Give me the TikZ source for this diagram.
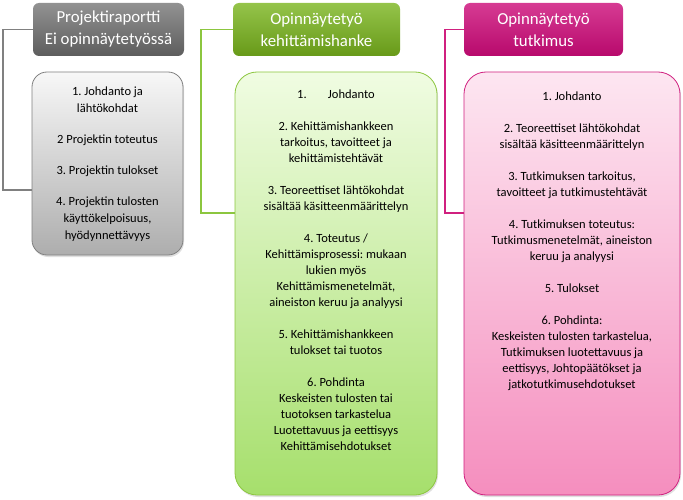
\documentclass[tikz,border=0pt]{standalone}
\usepackage{fontspec}
\setmainfont{Carlito}
\usetikzlibrary{shadows}
\frenchspacing
\definecolor{grayhead}{HTML}{6E6E6E}
\definecolor{grayline}{HTML}{808080}
\definecolor{greenhead}{HTML}{7AB51D}
\definecolor{greenline}{HTML}{8CC63F}
\definecolor{greentop}{HTML}{F0FCE2}
\definecolor{greenbot}{HTML}{A6DF6C}
\definecolor{pinkhead}{HTML}{CC0A78}
\definecolor{pinkline}{HTML}{D0207F}
\definecolor{pinktop}{HTML}{FDE6F1}
\definecolor{pinkbot}{HTML}{F58EBE}
\tikzset{
  head/.style={rectangle,rounded corners=6pt,text=white,align=center,
    font={\fontsize{16.8}{22}\selectfont},minimum height=53pt,inner sep=0pt},
  body/.style={rectangle,rounded corners=22pt,line width=0.8pt,minimum height=423pt,
    drop shadow={opacity=0.25,shadow xshift=1pt,shadow yshift=-2pt}},
  bodytext/.style={anchor=north,align=center,text=black,
    font={\fontsize{12.5}{16}\selectfont}},
  bracket/.style={line width=1.8pt}
}
\begin{document}
\begin{tikzpicture}[x=1pt,y=-1pt]
\useasboundingbox (0,0) rectangle (683,500);
% projektiraportti
\node (h1) at (108.5,29.5) [head,minimum width=151pt,top color=grayhead!75!white,bottom color=grayhead!85!black] {Projektiraportti\\Ei opinnäytetyössä};
\node (b1) at (107.5,163.5) [body,rounded corners=15pt,minimum width=151pt,minimum height=183pt,draw=grayline,top color=black!3,bottom color=black!32] {};
\node (t1) at ([yshift=-12pt]b1.north) [bodytext,font={\fontsize{12.5}{17}\selectfont}] {1. Johdanto ja\\lähtökohdat\\[14pt]2 Projektin toteutus\\[14pt]3. Projektin tulokset\\[14pt]4. Projektin tulosten\\käyttökelpoisuus,\\hyödynnettävyys};
\coordinate (k1) at (3,190);
\draw[bracket,grayline] (h1.west) -| (k1) -- (k1 -| b1.west);
% kehittamishanke
\node (h2) at (316.5,29.5) [head,minimum width=167pt,top color=greenhead!80!white,bottom color=greenhead!85!black] {Opinnäytetyö\\kehittämishanke};
\node (b2) at (336,283.5) [body,minimum width=202pt,draw=greenline,top color=greentop,bottom color=greenbot] {};
\node (t2) at ([yshift=-15pt]b2.north) [bodytext] {1.\hspace{1.7em}Johdanto\\[16pt]2. Kehittämishankkeen\\tarkoitus, tavoitteet ja\\kehittämistehtävät\\[16pt]3. Teoreettiset lähtökohdat\\sisältää käsitteenmäärittelyn\\[16pt]4. Toteutus /\\Kehittämisprosessi: mukaan\\lukien myös\\Kehittämismenetelmät,\\aineiston keruu ja analyysi\\[16pt]5. Kehittämishankkeen\\tulokset tai tuotos\\[16pt]6. Pohdinta\\Keskeisten tulosten tai\\tuotoksen tarkastelua\\Luotettavuus ja eettisyys\\Kehittämisehdotukset};
\coordinate (k2) at (201,213);
\draw[bracket,greenline] (h2.west) -| (k2) -- (k2 -| b2.west);
% tutkimus
\node (h3) at (543.5,29.5) [head,minimum width=159pt,top color=pinkhead!80!white,bottom color=pinkhead!90!black] {Opinnäytetyö\\tutkimus};
\node (b3) at (572,283.5) [body,minimum width=216pt,draw=pinkline,top color=pinktop,bottom color=pinkbot] {};
\node (t3) at ([yshift=-17pt]b3.north) [bodytext] {1. Johdanto\\[16pt]2. Teoreettiset lähtökohdat\\sisältää käsitteenmäärittelyn\\[16pt]3. Tutkimuksen tarkoitus,\\tavoitteet ja tutkimustehtävät\\[16pt]4. Tutkimuksen toteutus:\\Tutkimusmenetelmät, aineiston\\keruu ja analyysi\\[16pt]5. Tulokset\\[16pt]6. Pohdinta:\\Keskeisten tulosten tarkastelua,\\Tutkimuksen luotettavuus ja\\eettisyys, Johtopäätökset ja\\jatkotutkimusehdotukset};
\coordinate (k3) at (445,213);
\draw[bracket,pinkline] (h3.west) -| (k3) -- (k3 -| b3.west);
\end{tikzpicture}
\end{document}
